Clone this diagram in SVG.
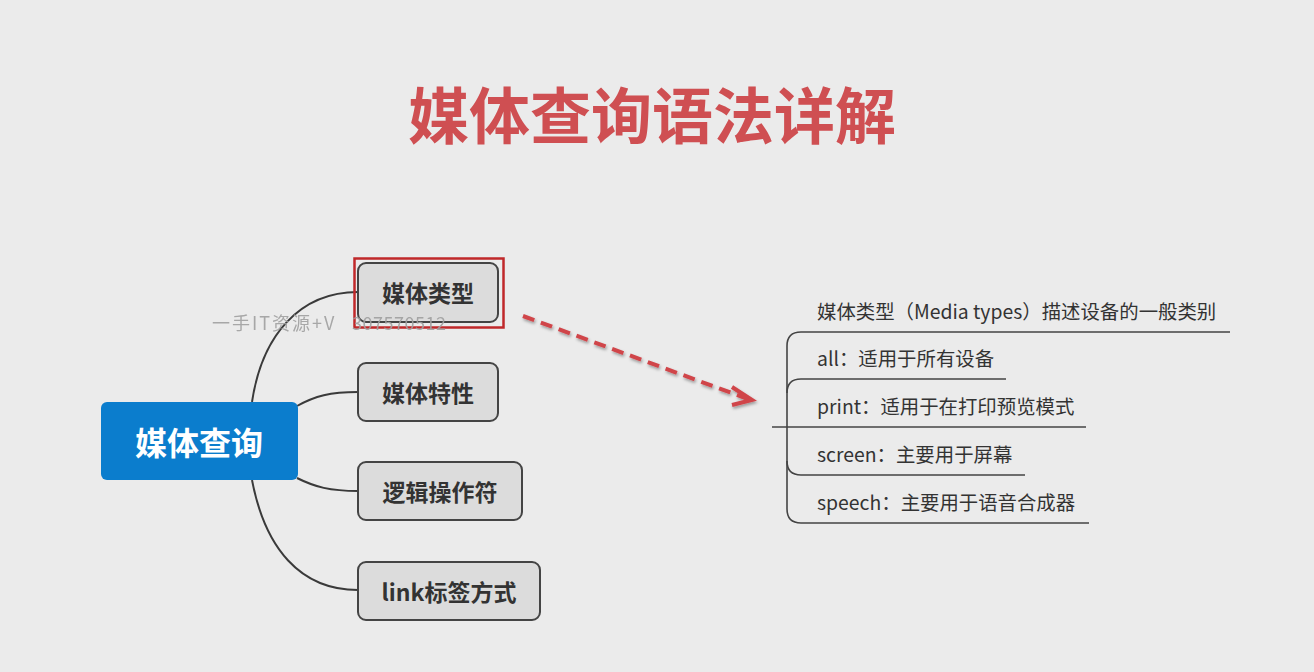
<svg xmlns="http://www.w3.org/2000/svg" width="1314" height="672" viewBox="0 0 1314 672">
<style>
.cjk{font-family:"Noto Sans CJK SC","Noto Sans",sans-serif}
.child rect{fill:#dcdcdc;stroke:#444;stroke-width:2}
.child text{font-size:23px;font-weight:bold;fill:#333;text-anchor:middle;dominant-baseline:central}
.conn{fill:none;stroke:#3a3a3a;stroke-width:2}
.tree{fill:none;stroke:#444;stroke-width:1.6}
.item{font-size:19.4px;fill:#333}
</style>
<defs>
<filter id="sh" x="-10%" y="-10%" width="120%" height="130%">
<feDropShadow dx="1" dy="2" stdDeviation="1.5" flood-color="#000" flood-opacity="0.35"/>
</filter>
</defs>
<rect width="1314" height="672" fill="#ebebeb"/>
<text class="cjk" x="652" y="112" font-size="61" font-weight="bold" fill="#cf4f52" text-anchor="middle" dominant-baseline="central">媒体查询语法详解</text>

<g id="connectors">
<path class="conn" d="M252,402 C262,335 300,292 358,292"/>
<path class="conn" d="M297,406 C315,396 330,392 358,392"/>
<path class="conn" d="M297,478 C315,487 330,491 358,491"/>
<path class="conn" d="M252,480 C265,548 300,590 358,590"/>
<g filter="url(#sh)" stroke="#d0454a" stroke-width="4" fill="none">
<path d="M523,316 L748,399" stroke-dasharray="12 7"/>
<path d="M732,387 L752,400 L732,405" stroke-linejoin="miter"/>
</g>
</g>

<g id="root">
<rect x="101" y="402" width="197" height="78" rx="6" fill="#0b7dcd"/>
<text class="cjk" x="199" y="441" font-size="32" font-weight="bold" fill="#fff" text-anchor="middle" dominant-baseline="central">媒体查询</text>
</g>

<g id="n-types" class="child cjk">
<rect x="358" y="263" width="140" height="59" rx="8"/>
<text x="428" y="292">媒体类型</text>
<rect x="354.5" y="258.5" width="149" height="69" style="fill:none;stroke:#c0282a;stroke-width:2.5"/>
</g>
<g id="n-features" class="child cjk">
<rect x="358" y="363" width="140" height="58" rx="8"/>
<text x="428" y="392">媒体特性</text>
</g>
<g id="n-logic" class="child cjk">
<rect x="358" y="462" width="164" height="58" rx="8"/>
<text x="440" y="491">逻辑操作符</text>
</g>
<g id="n-link" class="child cjk">
<rect x="358" y="562" width="182" height="58" rx="8"/>
<text x="449" y="591">link标签方式</text>
</g>

<text class="cjk" x="212" y="330" font-size="18" fill="#a0a0a0" opacity="0.9"><tspan letter-spacing="2">一手IT资源+V</tspan><tspan x="352" letter-spacing="0.5">307570512</tspan></text>

<g id="detail-tree">
<path class="tree" d="M787,346 V509"/>
<path class="tree" d="M787,346 Q787,332 801,332 H1230"/>
<path class="tree" d="M787,393 Q787,379 801,379 H1006"/>
<path class="tree" d="M772,427 H1086"/>
<path class="tree" d="M787,461 Q787,475 801,475 H1025"/>
<path class="tree" d="M787,509 Q787,523 801,523 H1089"/>
</g>
<g id="item-1" class="cjk item"><text x="817" y="319">媒体类型（Media types）描述设备的一般类别</text></g>
<g id="item-2" class="cjk item"><text x="817" y="366">all：适用于所有设备</text></g>
<g id="item-3" class="cjk item"><text x="817" y="414">print：适用于在打印预览模式</text></g>
<g id="item-4" class="cjk item"><text x="817" y="462">screen：主要用于屏幕</text></g>
<g id="item-5" class="cjk item"><text x="817" y="510">speech：主要用于语音合成器</text></g>
</svg>
